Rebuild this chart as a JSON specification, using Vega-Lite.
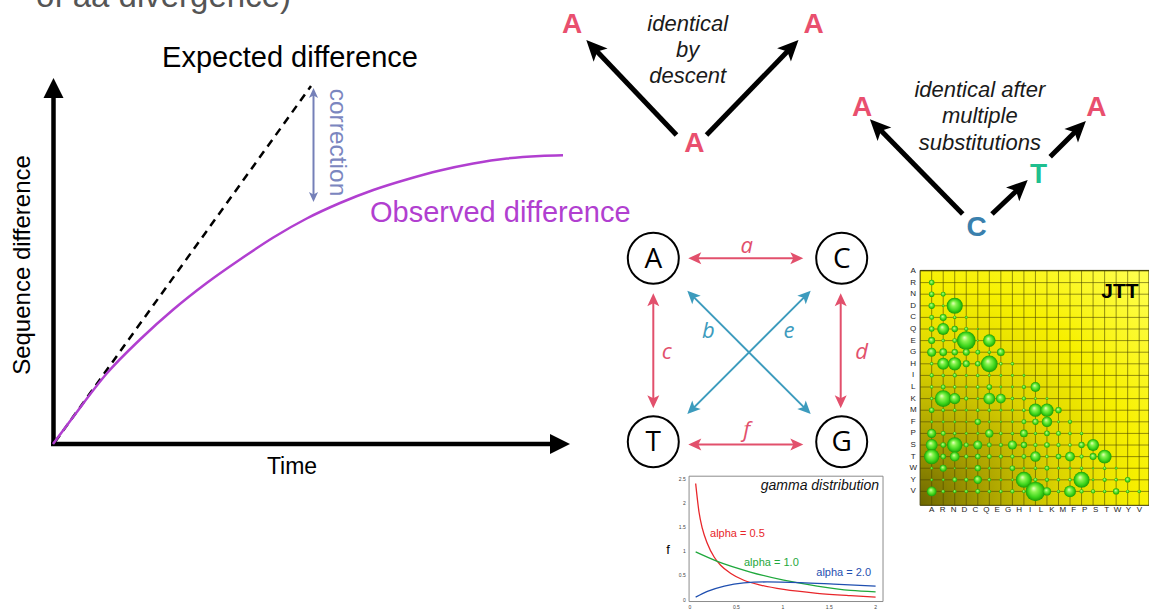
{
  "$schema": "https://vega.github.io/schema/vega-lite/v6.json",
  "width": 1149,
  "height": 613,
  "autosize": {"type": "fit", "contains": "padding"},
  "padding": 0,
  "background": "white",
  "config": {"view": {"stroke": null}},
  "datasets": {
    "aa": [
      {"aa": "A", "idx": 0, "bx": 0}, {"aa": "R", "idx": 1, "bx": 0.95}, {"aa": "N", "idx": 2, "bx": 1.9},
      {"aa": "D", "idx": 3, "bx": 2.84}, {"aa": "C", "idx": 4, "bx": 3.79}, {"aa": "Q", "idx": 5, "bx": 4.74},
      {"aa": "E", "idx": 6, "bx": 5.69}, {"aa": "G", "idx": 7, "bx": 6.64}, {"aa": "H", "idx": 8, "bx": 7.58},
      {"aa": "I", "idx": 9, "bx": 8.53}, {"aa": "L", "idx": 10, "bx": 9.48}, {"aa": "K", "idx": 11, "bx": 10.43},
      {"aa": "M", "idx": 12, "bx": 11.38}, {"aa": "F", "idx": 13, "bx": 12.32}, {"aa": "P", "idx": 14, "bx": 13.27},
      {"aa": "S", "idx": 15, "bx": 14.22}, {"aa": "T", "idx": 16, "bx": 15.17}, {"aa": "W", "idx": 17, "bx": 16.12},
      {"aa": "Y", "idx": 18, "bx": 17.06}, {"aa": "V", "idx": 19, "bx": 18.01}
    ],
    "bubbles": [
      {"row": "R", "col": "A", "v": 8},
      {"row": "N", "col": "A", "v": 8}, {"row": "N", "col": "R", "v": 7},
      {"row": "D", "col": "A", "v": 9}, {"row": "D", "col": "R", "v": 4}, {"row": "D", "col": "N", "v": 23},
      {"row": "C", "col": "A", "v": 7}, {"row": "C", "col": "R", "v": 10}, {"row": "C", "col": "N", "v": 5}, {"row": "C", "col": "D", "v": 4},
      {"row": "Q", "col": "A", "v": 8}, {"row": "Q", "col": "R", "v": 17}, {"row": "Q", "col": "N", "v": 9}, {"row": "Q", "col": "D", "v": 6}, {"row": "Q", "col": "C", "v": 3},
      {"row": "E", "col": "A", "v": 10}, {"row": "E", "col": "R", "v": 5}, {"row": "E", "col": "N", "v": 7}, {"row": "E", "col": "D", "v": 27}, {"row": "E", "col": "C", "v": 3}, {"row": "E", "col": "Q", "v": 18},
      {"row": "G", "col": "A", "v": 13}, {"row": "G", "col": "R", "v": 11}, {"row": "G", "col": "N", "v": 9}, {"row": "G", "col": "D", "v": 10}, {"row": "G", "col": "C", "v": 7}, {"row": "G", "col": "Q", "v": 5}, {"row": "G", "col": "E", "v": 11},
      {"row": "H", "col": "A", "v": 5}, {"row": "H", "col": "R", "v": 17}, {"row": "H", "col": "N", "v": 19}, {"row": "H", "col": "D", "v": 10}, {"row": "H", "col": "C", "v": 8}, {"row": "H", "col": "Q", "v": 24}, {"row": "H", "col": "E", "v": 5}, {"row": "H", "col": "G", "v": 5},
      {"row": "I", "col": "A", "v": 6}, {"row": "I", "col": "R", "v": 5}, {"row": "I", "col": "N", "v": 6}, {"row": "I", "col": "D", "v": 4}, {"row": "I", "col": "C", "v": 5}, {"row": "I", "col": "Q", "v": 4}, {"row": "I", "col": "E", "v": 4}, {"row": "I", "col": "G", "v": 4}, {"row": "I", "col": "H", "v": 4},
      {"row": "L", "col": "A", "v": 5}, {"row": "L", "col": "R", "v": 7}, {"row": "L", "col": "N", "v": 5}, {"row": "L", "col": "D", "v": 4}, {"row": "L", "col": "C", "v": 5}, {"row": "L", "col": "Q", "v": 8}, {"row": "L", "col": "E", "v": 4}, {"row": "L", "col": "G", "v": 4}, {"row": "L", "col": "H", "v": 6}, {"row": "L", "col": "I", "v": 14},
      {"row": "K", "col": "A", "v": 5}, {"row": "K", "col": "R", "v": 24}, {"row": "K", "col": "N", "v": 16}, {"row": "K", "col": "D", "v": 6}, {"row": "K", "col": "C", "v": 4}, {"row": "K", "col": "Q", "v": 17}, {"row": "K", "col": "E", "v": 14}, {"row": "K", "col": "G", "v": 5}, {"row": "K", "col": "H", "v": 6}, {"row": "K", "col": "I", "v": 4}, {"row": "K", "col": "L", "v": 4},
      {"row": "M", "col": "A", "v": 8}, {"row": "M", "col": "R", "v": 5}, {"row": "M", "col": "N", "v": 5}, {"row": "M", "col": "D", "v": 4}, {"row": "M", "col": "C", "v": 5}, {"row": "M", "col": "Q", "v": 5}, {"row": "M", "col": "E", "v": 4}, {"row": "M", "col": "G", "v": 4}, {"row": "M", "col": "H", "v": 5}, {"row": "M", "col": "I", "v": 19}, {"row": "M", "col": "L", "v": 19}, {"row": "M", "col": "K", "v": 9},
      {"row": "F", "col": "A", "v": 4}, {"row": "F", "col": "R", "v": 4}, {"row": "F", "col": "N", "v": 4}, {"row": "F", "col": "D", "v": 3}, {"row": "F", "col": "C", "v": 9}, {"row": "F", "col": "Q", "v": 4}, {"row": "F", "col": "E", "v": 3}, {"row": "F", "col": "G", "v": 4}, {"row": "F", "col": "H", "v": 7}, {"row": "F", "col": "I", "v": 9}, {"row": "F", "col": "L", "v": 15}, {"row": "F", "col": "K", "v": 4}, {"row": "F", "col": "M", "v": 6},
      {"row": "P", "col": "A", "v": 13}, {"row": "P", "col": "R", "v": 7}, {"row": "P", "col": "N", "v": 5}, {"row": "P", "col": "D", "v": 4}, {"row": "P", "col": "C", "v": 4}, {"row": "P", "col": "Q", "v": 12}, {"row": "P", "col": "E", "v": 5}, {"row": "P", "col": "G", "v": 5}, {"row": "P", "col": "H", "v": 11}, {"row": "P", "col": "I", "v": 5}, {"row": "P", "col": "L", "v": 8}, {"row": "P", "col": "K", "v": 7}, {"row": "P", "col": "M", "v": 5}, {"row": "P", "col": "F", "v": 5},
      {"row": "S", "col": "A", "v": 17}, {"row": "S", "col": "R", "v": 8}, {"row": "S", "col": "N", "v": 22}, {"row": "S", "col": "D", "v": 7}, {"row": "S", "col": "C", "v": 13}, {"row": "S", "col": "Q", "v": 7}, {"row": "S", "col": "E", "v": 6}, {"row": "S", "col": "G", "v": 13}, {"row": "S", "col": "H", "v": 9}, {"row": "S", "col": "I", "v": 6}, {"row": "S", "col": "L", "v": 8}, {"row": "S", "col": "K", "v": 6}, {"row": "S", "col": "M", "v": 5}, {"row": "S", "col": "F", "v": 9}, {"row": "S", "col": "P", "v": 17},
      {"row": "T", "col": "A", "v": 22}, {"row": "T", "col": "R", "v": 8}, {"row": "T", "col": "N", "v": 14}, {"row": "T", "col": "D", "v": 6}, {"row": "T", "col": "C", "v": 8}, {"row": "T", "col": "Q", "v": 7}, {"row": "T", "col": "E", "v": 6}, {"row": "T", "col": "G", "v": 6}, {"row": "T", "col": "H", "v": 7}, {"row": "T", "col": "I", "v": 15}, {"row": "T", "col": "L", "v": 5}, {"row": "T", "col": "K", "v": 8}, {"row": "T", "col": "M", "v": 14}, {"row": "T", "col": "F", "v": 6}, {"row": "T", "col": "P", "v": 10}, {"row": "T", "col": "S", "v": 20},
      {"row": "W", "col": "A", "v": 4}, {"row": "W", "col": "R", "v": 10}, {"row": "W", "col": "N", "v": 3}, {"row": "W", "col": "D", "v": 3}, {"row": "W", "col": "C", "v": 9}, {"row": "W", "col": "Q", "v": 4}, {"row": "W", "col": "E", "v": 3}, {"row": "W", "col": "G", "v": 8}, {"row": "W", "col": "H", "v": 4}, {"row": "W", "col": "I", "v": 5}, {"row": "W", "col": "L", "v": 7}, {"row": "W", "col": "K", "v": 4}, {"row": "W", "col": "M", "v": 4}, {"row": "W", "col": "F", "v": 5}, {"row": "W", "col": "P", "v": 3}, {"row": "W", "col": "S", "v": 5}, {"row": "W", "col": "T", "v": 4},
      {"row": "Y", "col": "A", "v": 4}, {"row": "Y", "col": "R", "v": 4}, {"row": "Y", "col": "N", "v": 7}, {"row": "Y", "col": "D", "v": 6}, {"row": "Y", "col": "C", "v": 12}, {"row": "Y", "col": "Q", "v": 5}, {"row": "Y", "col": "E", "v": 4}, {"row": "Y", "col": "G", "v": 4}, {"row": "Y", "col": "H", "v": 23}, {"row": "Y", "col": "I", "v": 6}, {"row": "Y", "col": "L", "v": 6}, {"row": "Y", "col": "K", "v": 5}, {"row": "Y", "col": "M", "v": 5}, {"row": "Y", "col": "F", "v": 23}, {"row": "Y", "col": "P", "v": 4}, {"row": "Y", "col": "S", "v": 6}, {"row": "Y", "col": "T", "v": 5}, {"row": "Y", "col": "W", "v": 8},
      {"row": "V", "col": "A", "v": 14}, {"row": "V", "col": "R", "v": 5}, {"row": "V", "col": "N", "v": 5}, {"row": "V", "col": "D", "v": 5}, {"row": "V", "col": "C", "v": 7}, {"row": "V", "col": "Q", "v": 5}, {"row": "V", "col": "E", "v": 5}, {"row": "V", "col": "G", "v": 6}, {"row": "V", "col": "H", "v": 5}, {"row": "V", "col": "I", "v": 28}, {"row": "V", "col": "L", "v": 12}, {"row": "V", "col": "K", "v": 5}, {"row": "V", "col": "M", "v": 17}, {"row": "V", "col": "F", "v": 6}, {"row": "V", "col": "P", "v": 6}, {"row": "V", "col": "S", "v": 5}, {"row": "V", "col": "T", "v": 9}, {"row": "V", "col": "W", "v": 5}, {"row": "V", "col": "Y", "v": 5}
    ],
    "bases": [
      {"x": 653.3, "y": 258.3, "base": "A"}, {"x": 841.7, "y": 258.3, "base": "C"},
      {"x": 653.3, "y": 441.7, "base": "T"}, {"x": 841.7, "y": 441.7, "base": "G"}
    ],
    "subst": [
      {"x": 695.3, "y": 258.3, "x2": 796.3, "y2": 258.3, "kind": "transversion"},
      {"x": 695.3, "y": 444.5, "x2": 796.3, "y2": 444.5, "kind": "transversion"},
      {"x": 653.3, "y": 300.3, "x2": 653.3, "y2": 401.3, "kind": "transversion"},
      {"x": 840.7, "y": 300.3, "x2": 840.7, "y2": 401.3, "kind": "transversion"},
      {"x": 692.3, "y": 295.6, "x2": 805.8, "y2": 409.1, "kind": "transition"},
      {"x": 692.3, "y": 409.1, "x2": 805.8, "y2": 295.6, "kind": "transition"}
    ],
    "substHeads": [
      {"x": 688.3, "y": 258.3, "heading": -90, "kind": "transversion"}, {"x": 803.3, "y": 258.3, "heading": 90, "kind": "transversion"},
      {"x": 688.3, "y": 444.5, "heading": -90, "kind": "transversion"}, {"x": 803.3, "y": 444.5, "heading": 90, "kind": "transversion"},
      {"x": 653.3, "y": 293.3, "heading": 0, "kind": "transversion"}, {"x": 653.3, "y": 408.3, "heading": 180, "kind": "transversion"},
      {"x": 840.7, "y": 293.3, "heading": 0, "kind": "transversion"}, {"x": 840.7, "y": 408.3, "heading": 180, "kind": "transversion"},
      {"x": 687.3, "y": 290.7, "heading": -45, "kind": "transition"}, {"x": 810.7, "y": 414, "heading": 135, "kind": "transition"},
      {"x": 687.3, "y": 414, "heading": -135, "kind": "transition"}, {"x": 810.7, "y": 290.7, "heading": 45, "kind": "transition"}
    ],
    "substLabels": [
      {"x": 746.7, "y": 253.3, "label": "a", "kind": "transversion"},
      {"x": 708.3, "y": 338.3, "label": "b", "kind": "transition"},
      {"x": 666.7, "y": 359.3, "label": "c", "kind": "transversion"},
      {"x": 861.7, "y": 359.3, "label": "d", "kind": "transversion"},
      {"x": 789, "y": 338.3, "label": "e", "kind": "transition"},
      {"x": 746.7, "y": 437.3, "label": "f", "kind": "transversion"}
    ]
  },
  "layer": [
    {
      "encoding": {
        "x": {"field": "x", "type": "quantitative", "scale": {"domain": [0, 1149], "nice": false, "zero": false}, "axis": null},
        "y": {"field": "y", "type": "quantitative", "scale": {"domain": [0, 613], "reverse": true, "nice": false, "zero": false}, "axis": null}
      },
      "resolve": {"scale": {"color": "independent"}},
      "layer": [
        {
          "data": {"values": [{"x": 36, "y": 7, "label": "of aa divergence)"}]},
          "mark": {"type": "text", "align": "left", "baseline": "alphabetic", "font": "Liberation Sans", "fontSize": 33, "color": "#555555", "clip": true},
          "encoding": {"text": {"field": "label"}}
        },
        {
          "data": {"values": [{"x": 53.5, "y": 446, "x2": 53.5, "y2": 97}, {"x": 51, "y": 444, "x2": 552, "y2": 444}]},
          "mark": {"type": "rule", "color": "black", "strokeWidth": 4.5, "strokeCap": "butt"},
          "encoding": {"x2": {"field": "x2"}, "y2": {"field": "y2"}}
        },
        {
          "data": {"values": [{"x": 53.5, "y": 78, "heading": 0}, {"x": 570, "y": 444, "heading": 90}]},
          "mark": {"type": "point", "shape": "M0,0L-1,2L1,2Z", "size": 400, "filled": true, "color": "black", "opacity": 1},
          "encoding": {"angle": {"field": "heading", "type": "quantitative", "scale": null}}
        },
        {
          "data": {"values": [{"x": 55, "y": 442, "x2": 311, "y2": 86}]},
          "mark": {"type": "rule", "color": "black", "strokeWidth": 2.5, "strokeDash": [8, 6]},
          "encoding": {"x2": {"field": "x2"}, "y2": {"field": "y2"}}
        },
        {
          "data": {"values": [
            {"x": 53, "y": 444}, {"x": 73.3, "y": 416.7}, {"x": 106.7, "y": 373.5}, {"x": 140, "y": 339.5},
            {"x": 173.3, "y": 309.5}, {"x": 206.7, "y": 283}, {"x": 240, "y": 259.5}, {"x": 273.3, "y": 237.5},
            {"x": 306.7, "y": 218.5}, {"x": 340, "y": 203}, {"x": 373.3, "y": 190}, {"x": 406.7, "y": 179.5},
            {"x": 440, "y": 170.5}, {"x": 473.3, "y": 163.5}, {"x": 506.7, "y": 158.5}, {"x": 540, "y": 156},
            {"x": 563, "y": 155.3}
          ]},
          "mark": {"type": "line", "color": "#b13fd0", "strokeWidth": 2.5, "interpolate": "monotone"},
          "encoding": {}
        },
        {
          "data": {"values": [{"x": 313.5, "y": 95, "x2": 313.5, "y2": 195}]},
          "mark": {"type": "rule", "color": "#7580b8", "strokeWidth": 2},
          "encoding": {"x2": {"field": "x2"}, "y2": {"field": "y2"}}
        },
        {
          "data": {"values": [{"x": 313.5, "y": 88, "heading": 0}, {"x": 313.5, "y": 202, "heading": 180}]},
          "mark": {"type": "point", "shape": "M0,0L-1.2,2.6L0,2L1.2,2.6Z", "size": 58, "filled": true, "color": "#7580b8", "opacity": 1},
          "encoding": {"angle": {"field": "heading", "type": "quantitative", "scale": null}}
        },
        {
          "data": {"values": [{"x": 290, "y": 67, "label": "Expected difference"}]},
          "mark": {"type": "text", "align": "center", "baseline": "alphabetic", "font": "Liberation Sans", "fontSize": 29, "color": "black"},
          "encoding": {"text": {"field": "label"}}
        },
        {
          "data": {"values": [{"x": 370, "y": 222, "label": "Observed difference"}]},
          "mark": {"type": "text", "align": "left", "baseline": "alphabetic", "font": "Liberation Sans", "fontSize": 29, "color": "#b13fd0"},
          "encoding": {"text": {"field": "label"}}
        },
        {
          "data": {"values": [{"x": 292, "y": 473.5, "label": "Time"}]},
          "mark": {"type": "text", "align": "center", "baseline": "alphabetic", "font": "Liberation Sans", "fontSize": 23, "color": "black"},
          "encoding": {"text": {"field": "label"}}
        },
        {
          "data": {"values": [{"x": 30, "y": 265, "label": "Sequence difference"}]},
          "mark": {"type": "text", "align": "center", "baseline": "alphabetic", "angle": 270, "font": "Liberation Sans", "fontSize": 24, "color": "black"},
          "encoding": {"text": {"field": "label"}}
        },
        {
          "data": {"values": [{"x": 330, "y": 142.5, "label": "correction"}]},
          "mark": {"type": "text", "align": "center", "baseline": "alphabetic", "angle": 90, "font": "Liberation Sans", "fontSize": 24.5, "color": "#7b86bf"},
          "encoding": {"text": {"field": "label"}}
        },
        {
          "data": {"values": [
            {"x": 676.5, "y": 135, "x2": 595.9, "y2": 50.2},
            {"x": 706.5, "y": 135, "x2": 788.8, "y2": 50.1},
            {"x": 962.7, "y": 214, "x2": 879.7, "y2": 129.3},
            {"x": 992, "y": 214, "x2": 1017.6, "y2": 189.7},
            {"x": 1050.2, "y": 156.7, "x2": 1076, "y2": 130.9}
          ]},
          "mark": {"type": "rule", "color": "black", "strokeWidth": 5, "strokeCap": "butt"},
          "encoding": {"x2": {"field": "x2"}, "y2": {"field": "y2"}}
        },
        {
          "data": {"values": [
            {"x": 586.3, "y": 40, "heading": -43.5},
            {"x": 798.5, "y": 40, "heading": 44.1},
            {"x": 869.9, "y": 119.3, "heading": -44.4},
            {"x": 1027.7, "y": 180, "heading": 46.4},
            {"x": 1085.9, "y": 121, "heading": 45}
          ]},
          "mark": {"type": "point", "shape": "M0,0L-1.2,2.6L0,2L1.2,2.6Z", "size": 256, "filled": true, "color": "black", "opacity": 1},
          "encoding": {"angle": {"field": "heading", "type": "quantitative", "scale": null}}
        },
        {
          "data": {"values": [
            {"x": 572, "y": 33.3, "base": "A"}, {"x": 813.7, "y": 33.3, "base": "A"}, {"x": 694.3, "y": 152.3, "base": "A"},
            {"x": 862, "y": 116, "base": "A"}, {"x": 1096.3, "y": 116, "base": "A"},
            {"x": 1038.6, "y": 182.7, "base": "T"}, {"x": 976.5, "y": 236, "base": "C"}
          ]},
          "mark": {"type": "text", "align": "center", "baseline": "alphabetic", "font": "Liberation Sans", "fontWeight": "bold", "fontSize": 28},
          "encoding": {
            "text": {"field": "base"},
            "color": {"field": "base", "type": "nominal", "scale": {"domain": ["A", "C", "T"], "range": ["#e94f6e", "#3a80ad", "#1fbf8f"]}, "legend": null}
          }
        },
        {
          "data": {"values": [
            {"x": 687.7, "y": 31, "label": "identical"}, {"x": 687.7, "y": 57, "label": "by"}, {"x": 687.7, "y": 83, "label": "descent"},
            {"x": 979.8, "y": 97, "label": "identical after"}, {"x": 979.8, "y": 123, "label": "multiple"}, {"x": 979.8, "y": 150, "label": "substitutions"}
          ]},
          "mark": {"type": "text", "align": "center", "baseline": "alphabetic", "font": "Liberation Sans", "fontStyle": "italic", "fontSize": 22, "color": "#1a1a1a"},
          "encoding": {"text": {"field": "label"}}
        },
        {
          "data": {"name": "subst"},
          "mark": {"type": "rule", "strokeWidth": 2},
          "encoding": {
            "x2": {"field": "x2"}, "y2": {"field": "y2"},
            "color": {"field": "kind", "type": "nominal", "scale": {"domain": ["transversion", "transition"], "range": ["#e2506c", "#3c9bbd"]}, "legend": null}
          }
        },
        {
          "data": {"name": "substHeads"},
          "mark": {"type": "point", "shape": "M0,0L-1.2,2.6L0,2L1.2,2.6Z", "size": 100, "filled": true, "opacity": 1},
          "encoding": {
            "angle": {"field": "heading", "type": "quantitative", "scale": null},
            "color": {"field": "kind", "type": "nominal", "scale": {"domain": ["transversion", "transition"], "range": ["#e2506c", "#3c9bbd"]}, "legend": null}
          }
        },
        {
          "data": {"name": "bases"},
          "mark": {"type": "point", "shape": "circle", "size": 2601, "filled": true, "fill": "white", "stroke": "black", "strokeWidth": 2, "opacity": 1},
          "encoding": {}
        },
        {
          "data": {"name": "bases"},
          "mark": {"type": "text", "align": "center", "baseline": "middle", "dy": 1.5, "font": "Open Sans", "fontSize": 28, "color": "black"},
          "encoding": {"text": {"field": "base"}}
        },
        {
          "data": {"name": "substLabels"},
          "mark": {"type": "text", "align": "center", "baseline": "alphabetic", "font": "Open Sans", "fontStyle": "italic", "fontSize": 22},
          "encoding": {
            "text": {"field": "label"},
            "color": {"field": "kind", "type": "nominal", "scale": {"domain": ["transversion", "transition"], "range": ["#e2506c", "#3c9bbd"]}, "legend": null}
          }
        }
      ]
    },
    {
      "layer": [
        {
          "data": {"values": [{}]},
          "mark": {"type": "rect", "fill": "white", "stroke": "#8c8c8c", "strokeWidth": 1},
          "encoding": {
            "x": {"datum": -0.01, "type": "quantitative", "scale": {"domain": [-7.435, 4.946], "nice": false, "zero": false}, "axis": null},
            "x2": {"datum": 2.08},
            "y": {"datum": -0.04, "type": "quantitative", "scale": {"domain": [-0.277, 12.39], "nice": false, "zero": false}, "axis": null},
            "y2": {"datum": 2.55}
          }
        },
        {
          "encoding": {
            "x": {"field": "g", "type": "quantitative", "scale": {"domain": [-7.435, 4.946], "nice": false, "zero": false}, "axis": null},
            "y": {"field": "f", "type": "quantitative", "scale": {"domain": [-0.277, 12.39], "nice": false, "zero": false}, "axis": null}
          },
          "layer": [
            {
              "data": {"values": [
                {"alpha": "0.5", "g": 0.061, "f": 2.4}, {"alpha": "0.5", "g": 0.097, "f": 1.81}, {"alpha": "0.5", "g": 0.133, "f": 1.47},
                {"alpha": "0.5", "g": 0.187, "f": 1.16}, {"alpha": "0.5", "g": 0.26, "f": 0.88}, {"alpha": "0.5", "g": 0.33, "f": 0.71},
                {"alpha": "0.5", "g": 0.44, "f": 0.54}, {"alpha": "0.5", "g": 0.58, "f": 0.4}, {"alpha": "0.5", "g": 0.76, "f": 0.3},
                {"alpha": "0.5", "g": 1.01, "f": 0.21}, {"alpha": "0.5", "g": 1.37, "f": 0.13}, {"alpha": "0.5", "g": 1.73, "f": 0.08},
                {"alpha": "0.5", "g": 2.0, "f": 0.05},
                {"alpha": "1.0", "g": 0.061, "f": 0.985}, {"alpha": "1.0", "g": 0.294, "f": 0.79}, {"alpha": "1.0", "g": 0.65, "f": 0.57},
                {"alpha": "1.0", "g": 1.01, "f": 0.4}, {"alpha": "1.0", "g": 1.37, "f": 0.28}, {"alpha": "1.0", "g": 1.73, "f": 0.19},
                {"alpha": "1.0", "g": 2.0, "f": 0.16},
                {"alpha": "2.0", "g": 0.061, "f": 0.05}, {"alpha": "2.0", "g": 0.187, "f": 0.17}, {"alpha": "2.0", "g": 0.37, "f": 0.28},
                {"alpha": "2.0", "g": 0.58, "f": 0.345}, {"alpha": "2.0", "g": 0.83, "f": 0.365}, {"alpha": "2.0", "g": 1.19, "f": 0.35},
                {"alpha": "2.0", "g": 1.55, "f": 0.32}, {"alpha": "2.0", "g": 2.0, "f": 0.28}
              ]},
              "mark": {"type": "line", "strokeWidth": 1.3, "interpolate": "monotone"},
              "encoding": {
                "color": {"field": "alpha", "type": "nominal", "scale": {"domain": ["0.5", "1.0", "2.0"], "range": ["#e8262a", "#1fa83c", "#1f4fb0"]}, "legend": null}
              }
            },
            {
              "data": {"values": [
                {"alpha": "0.5", "g": 0.216, "f": 1.351, "label": "alpha = 0.5"},
                {"alpha": "1.0", "g": 0.582, "f": 0.764, "label": "alpha = 1.0"},
                {"alpha": "2.0", "g": 1.361, "f": 0.552, "label": "alpha = 2.0"}
              ]},
              "mark": {"type": "text", "align": "left", "baseline": "middle", "font": "Liberation Sans", "fontSize": 11},
              "encoding": {
                "text": {"field": "label"},
                "color": {"field": "alpha", "type": "nominal", "scale": {"domain": ["0.5", "1.0", "2.0"], "range": ["#e8262a", "#1fa83c", "#1f4fb0"]}, "legend": null}
              }
            },
            {
              "data": {"values": [{"g": -0.237, "f": 1.03, "label": "f"}]},
              "mark": {"type": "text", "align": "center", "baseline": "middle", "font": "Liberation Sans", "fontSize": 13, "color": "black"},
              "encoding": {"text": {"field": "label"}}
            },
            {
              "data": {"values": [{"g": 2.037, "f": 2.27, "label": "gamma distribution"}]},
              "mark": {"type": "text", "align": "right", "baseline": "alphabetic", "font": "Liberation Sans", "fontStyle": "italic", "fontSize": 14, "color": "#111111"},
              "encoding": {"text": {"field": "label"}}
            }
          ]
        },
        {
          "data": {"values": [
            {"f": 0, "label": "0"}, {"f": 0.5, "label": "0.5"}, {"f": 1, "label": "1"},
            {"f": 1.5, "label": "1.5"}, {"f": 2, "label": "2"}, {"f": 2.5, "label": "2.5"}
          ]},
          "mark": {"type": "text", "align": "right", "baseline": "middle", "font": "Liberation Sans", "fontSize": 5, "color": "#444444"},
          "encoding": {
            "x": {"datum": -0.045, "type": "quantitative", "scale": {"domain": [-7.435, 4.946], "nice": false, "zero": false}, "axis": null},
            "y": {"field": "f", "type": "quantitative", "scale": {"domain": [-0.277, 12.39], "nice": false, "zero": false}, "axis": null},
            "text": {"field": "label"}
          }
        },
        {
          "data": {"values": [
            {"g": 0, "label": "0"}, {"g": 0.5, "label": "0.5"}, {"g": 1, "label": "1"},
            {"g": 1.5, "label": "1.5"}, {"g": 2, "label": "2"}
          ]},
          "mark": {"type": "text", "align": "center", "baseline": "middle", "font": "Liberation Sans", "fontSize": 5, "color": "#444444"},
          "encoding": {
            "x": {"field": "g", "type": "quantitative", "scale": {"domain": [-7.435, 4.946], "nice": false, "zero": false}, "axis": null},
            "y": {"datum": -0.16, "type": "quantitative", "scale": {"domain": [-0.277, 12.39], "nice": false, "zero": false}, "axis": null},
            "text": {"field": "label"}
          }
        }
      ]
    },
    {
      "layer": [
        {
          "data": {"values": [{}]},
          "mark": {
            "type": "rect", "clip": true, "stroke": "#3d3a00", "strokeWidth": 1,
            "fill": {"gradient": "radial", "x1": 0, "y1": 1, "r1": 0, "x2": 0, "y2": 1, "r2": 1.35, "stops": [
              {"offset": 0, "color": "#6a6400"}, {"offset": 0.22, "color": "#a9a100"}, {"offset": 0.45, "color": "#dcd400"},
              {"offset": 0.7, "color": "#f7f000"}, {"offset": 1, "color": "#ffff4a"}
            ]}
          },
          "encoding": {
            "x": {"datum": -1, "type": "quantitative", "scale": {"domain": [-80.81, 18.85], "nice": false, "zero": false}, "axis": null},
            "x2": {"datum": 18.85},
            "y": {"datum": -0.05, "type": "quantitative", "scale": {"domain": [-23.36, 29.48], "reverse": true, "nice": false, "zero": false}, "axis": null},
            "y2": {"datum": 20.2}
          }
        },
        {
          "data": {"name": "aa"},
          "mark": {"type": "rule", "color": "#4a4700", "strokeWidth": 0.8, "opacity": 0.75, "clip": true},
          "encoding": {
            "x": {"field": "idx", "type": "quantitative", "scale": {"domain": [-80.81, 18.85], "nice": false, "zero": false}, "axis": null},
            "y": {"datum": -0.05, "type": "quantitative", "scale": {"domain": [-23.36, 29.48], "reverse": true, "nice": false, "zero": false}, "axis": null},
            "y2": {"datum": 20.2}
          }
        },
        {
          "data": {"name": "aa"},
          "mark": {"type": "rule", "color": "#4a4700", "strokeWidth": 0.8, "opacity": 0.75, "clip": true},
          "encoding": {
            "y": {"field": "idx", "type": "quantitative", "scale": {"domain": [-23.36, 29.48], "reverse": true, "nice": false, "zero": false}, "axis": null},
            "x": {"datum": -1, "type": "quantitative", "scale": {"domain": [-80.81, 18.85], "nice": false, "zero": false}, "axis": null},
            "x2": {"datum": 18.85}
          }
        },
        {
          "encoding": {
            "x": {"field": "ci", "type": "quantitative", "scale": {"domain": [-80.81, 18.85], "nice": false, "zero": false}, "axis": null},
            "y": {"field": "ri", "type": "quantitative", "scale": {"domain": [-23.36, 29.48], "reverse": true, "nice": false, "zero": false}, "axis": null}
          },
          "layer": [
            {
              "data": {"name": "bubbles"},
              "transform": [
                {"lookup": "row", "from": {"data": {"name": "aa"}, "key": "aa", "fields": ["idx"]}, "as": ["ri"]},
                {"lookup": "col", "from": {"data": {"name": "aa"}, "key": "aa", "fields": ["idx"]}, "as": ["ci"]}
              ],
              "mark": {
                "type": "point", "shape": "circle", "filled": true, "opacity": 1, "clip": true,
                "fill": {"gradient": "radial", "x1": 0.4, "y1": 0.33, "r1": 0, "x2": 0.5, "y2": 0.5, "r2": 0.5, "stops": [
                  {"offset": 0, "color": "#f0ffc8"}, {"offset": 0.3, "color": "#8cf552"}, {"offset": 0.72, "color": "#3ad41a"}, {"offset": 1, "color": "#1c9a05"}
                ]}
              },
              "encoding": {
                "size": {"field": "v", "type": "quantitative", "scale": {"type": "pow", "exponent": 2, "domain": [0, 30], "range": [0, 440]}, "legend": null}
              }
            },
            {
              "data": {"values": [{"ci": 16.33, "ri": 2.35, "label": "JTT"}]},
              "mark": {"type": "text", "align": "center", "baseline": "alphabetic", "font": "Liberation Sans", "fontWeight": "bold", "fontSize": 21, "color": "black"},
              "encoding": {"text": {"field": "label"}}
            }
          ]
        },
        {
          "data": {"name": "aa"},
          "mark": {"type": "text", "align": "center", "baseline": "middle", "font": "Liberation Sans", "fontSize": 8, "color": "#222222"},
          "encoding": {
            "y": {"field": "idx", "type": "quantitative", "scale": {"domain": [-23.36, 29.48], "reverse": true, "nice": false, "zero": false}, "axis": null},
            "x": {"datum": -1.6, "type": "quantitative", "scale": {"domain": [-80.81, 18.85], "nice": false, "zero": false}, "axis": null},
            "text": {"field": "aa"}
          }
        },
        {
          "data": {"name": "aa"},
          "mark": {"type": "text", "align": "center", "baseline": "middle", "font": "Liberation Sans", "fontSize": 8, "color": "#222222"},
          "encoding": {
            "x": {"field": "bx", "type": "quantitative", "scale": {"domain": [-80.81, 18.85], "nice": false, "zero": false}, "axis": null},
            "y": {"datum": 20.6, "type": "quantitative", "scale": {"domain": [-23.36, 29.48], "reverse": true, "nice": false, "zero": false}, "axis": null},
            "text": {"field": "aa"}
          }
        }
      ]
    }
  ],
  "resolve": {"scale": {"x": "independent", "y": "independent", "color": "independent", "size": "independent"}}
}
